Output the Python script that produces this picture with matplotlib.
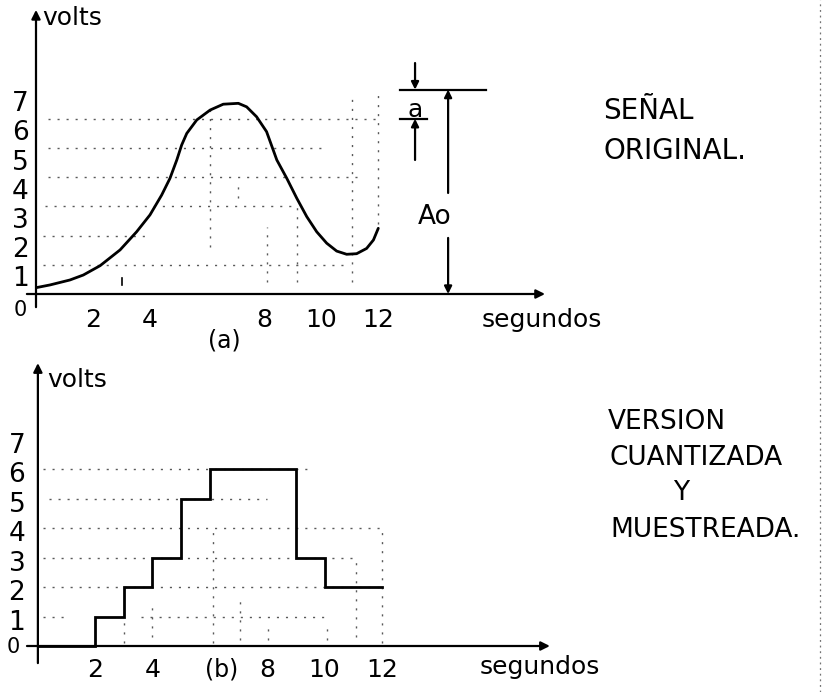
import matplotlib
matplotlib.use('Agg')
import matplotlib.pyplot as plt
from matplotlib.lines import Line2D

plt.rcParams['font.family'] = ['DejaVu Sans']

# (a) señal original: puntos (segundos, volts)
t_orig = [0.02, 0.49, 1.19, 1.66, 2.25, 2.95, 3.53, 4.00, 4.41, 4.70, 4.94,
          5.11, 5.29, 5.64, 6.11, 6.57, 7.10, 7.39, 7.74, 8.09, 8.45, 8.80,
          9.15, 9.50, 9.85, 10.20, 10.55, 10.90, 11.25, 11.60, 11.84, 12.01]
v_orig = [0.22, 0.31, 0.48, 0.65, 0.97, 1.51, 2.13, 2.71, 3.39, 3.96, 4.59,
          5.10, 5.50, 5.96, 6.30, 6.50, 6.53, 6.41, 6.07, 5.56, 4.59, 3.96,
          3.28, 2.65, 2.13, 1.74, 1.47, 1.36, 1.38, 1.56, 1.85, 2.25]

# (b) version cuantizada: nivel entero mantenido cada segundo
t_q = [0, 1, 2, 3, 4, 5, 6, 7, 8, 9, 10, 11, 12]
v_q = [0, 0, 1, 2, 3, 5, 6, 6, 6, 3, 2, 2, 2]

niveles = [0, 1, 2, 3, 4, 5, 6, 7]
marcas_x = [2, 4, 8, 10, 12]

# amplitud total y paso de cuantizacion
Ao = 7
a = 1

GRID = dict(color='0.35', lw=1.0, ls=(0, (1.5, 5)))
TXT = dict(color='black')


def flecha(ax, x0, y0, x1, y1, lw=1.6, ms=13):
    ax.annotate('', xy=(x1, y1), xytext=(x0, y0),
                arrowprops=dict(arrowstyle='-|>', color='black', lw=lw,
                                mutation_scale=ms, shrinkA=0, shrinkB=0))


fig = plt.figure(figsize=(8.26, 6.92), dpi=100)
fig.patch.set_facecolor('white')

# ---------- (a) señal original ----------
ax1 = fig.add_axes([0, 0.5, 1, 0.5])
ax1.set_xlim(-36 / 28.5, (826 - 36) / 28.5)
ax1.set_ylim((294 - 346) / 29.2, 294 / 29.2)
ax1.axis('off')

for lvl, x0, x1 in [(1, 0.25, 11.0), (2, 0.25, 4.0), (3, 0.3, 9.15),
                    (4, 0.42, 11.3), (5, 0.42, 10.2), (6, 0.42, 12.0)]:
    ax1.plot([x0, x1], [lvl, lvl], **GRID)
for tx, y0, y1 in [(6.1, 1.6, 6.3), (7.1, 3.3, 3.9), (8.1, 0.4, 2.3),
                   (9.15, 0.4, 3.0), (11.1, 0.4, 6.9), (12.0, 2.4, 6.9)]:
    ax1.plot([tx, tx], [y0, y1], **GRID)
ax1.plot([3.0, 3.0], [0.3, 0.55], color='black', lw=1.2)

ax1.plot(t_orig, v_orig, color='black', lw=2.0, solid_joinstyle='round',
         solid_capstyle='round')

flecha(ax1, 0, -0.45, 0, 9.73)
flecha(ax1, -0.32, 0, 17.86, 0)
ax1.text(0.21, 9.45, 'volts', fontsize=18, ha='left', va='center', **TXT)

for k in niveles:
    if k == 0:
        ax1.text(-0.56, -0.55, '0', fontsize=15, ha='center', va='center', **TXT)
    else:
        ax1.text(-0.56, k - 0.5, str(k), fontsize=19, ha='center', va='center', **TXT)
for k in marcas_x:
    ax1.text(k, -0.89, str(k), fontsize=18, ha='center', va='center', **TXT)
ax1.text(6.6, -1.6, '(a)', fontsize=17, ha='center', va='center', **TXT)
ax1.text(15.65, -0.89, 'segundos', fontsize=18, ha='left', va='center', **TXT)

# cotas a y Ao
ax1.plot([12.77, 15.8], [Ao, Ao], color='black', lw=1.6)
ax1.plot([12.77, 13.72], [Ao - a, Ao - a], color='black', lw=1.6)
flecha(ax1, 13.3, Ao + 0.91, 13.3, Ao, ms=11)
flecha(ax1, 13.3, Ao - a - 1.41, 13.3, Ao - a, ms=11)
ax1.text(13.3, Ao - a / 2 - 0.2, 'a', fontsize=18, ha='center', va='center', **TXT)
flecha(ax1, 14.46, 3.46, 14.46, Ao, ms=11)
flecha(ax1, 14.46, 1.92, 14.46, 0, ms=11)
ax1.text(14.0, 2.64, 'Ao', fontsize=19, ha='center', va='center', **TXT)

ax1.text(19.9, 6.27, 'SEÑAL', fontsize=20, ha='left', va='center', **TXT)
ax1.text(19.9, 4.9, 'ORIGINAL.', fontsize=20, ha='left', va='center', **TXT)

# ---------- (b) version cuantizada y muestreada ----------
ax2 = fig.add_axes([0, 0, 1, 0.5])
ax2.set_xlim(-37.6 / 28.7, (826 - 37.6) / 28.7)
ax2.set_ylim((646 - 692) / 29.5, (646 - 346) / 29.5)
ax2.axis('off')

for lvl, x0, x1 in [(1, 0.2, 1.1), (1, 3.6, 10.2), (2, 0.2, 12.0),
                    (3, 0.2, 11.1), (4, 0.2, 12.0), (5, 0.4, 8.0),
                    (6, 0.2, 9.6)]:
    ax2.plot([x0, x1], [lvl, lvl], **GRID)
for tx, y0, y1 in [(3.0, 0.1, 0.9), (4.0, 0.3, 1.5), (6.1, 0.1, 3.9),
                   (7.05, 0.2, 1.7), (8.03, 0.2, 0.6), (10.1, 0.2, 0.6),
                   (11.1, 0.3, 3.0), (12.0, 0.1, 3.9)]:
    ax2.plot([tx, tx], [y0, y1], **GRID)

ax2.step(t_q, v_q, where='post', color='black', lw=2.0,
         solid_joinstyle='miter')

flecha(ax2, 0.01, -0.58, 0.01, 9.59)
flecha(ax2, -0.37, 0, 17.85, 0)
ax2.text(0.33, 9.02, 'volts', fontsize=18, ha='left', va='center', **TXT)

for k in niveles:
    if k == 0:
        ax2.text(-0.86, -0.03, '0', fontsize=15, ha='center', va='center', **TXT)
    else:
        ax2.text(-0.72, k - 0.22, str(k), fontsize=19, ha='center', va='center', **TXT)
for k in marcas_x:
    ax2.text(k, -0.81, str(k), fontsize=18, ha='center', va='center', **TXT)
ax2.text(6.4, -0.81, '(b)', fontsize=17, ha='center', va='center', **TXT)
ax2.text(15.41, -0.71, 'segundos', fontsize=18, ha='left', va='center', **TXT)

ax2.text(19.87, 7.59, 'VERSION', fontsize=19, ha='left', va='center', **TXT)
ax2.text(19.94, 6.37, 'CUANTIZADA', fontsize=19, ha='left', va='center', **TXT)
ax2.text(22.42, 5.19, 'Y', fontsize=19, ha='center', va='center', **TXT)
ax2.text(19.94, 3.93, 'MUESTREADA.', fontsize=19, ha='left', va='center', **TXT)

# borde punteado de la hoja a la derecha
fig.add_artist(Line2D([820 / 826, 820 / 826], [0, 1], transform=fig.transFigure,
                      color='0.45', lw=0.9, ls=(0, (1.5, 3))))

fig.savefig('out.png', dpi=100, facecolor='white')
